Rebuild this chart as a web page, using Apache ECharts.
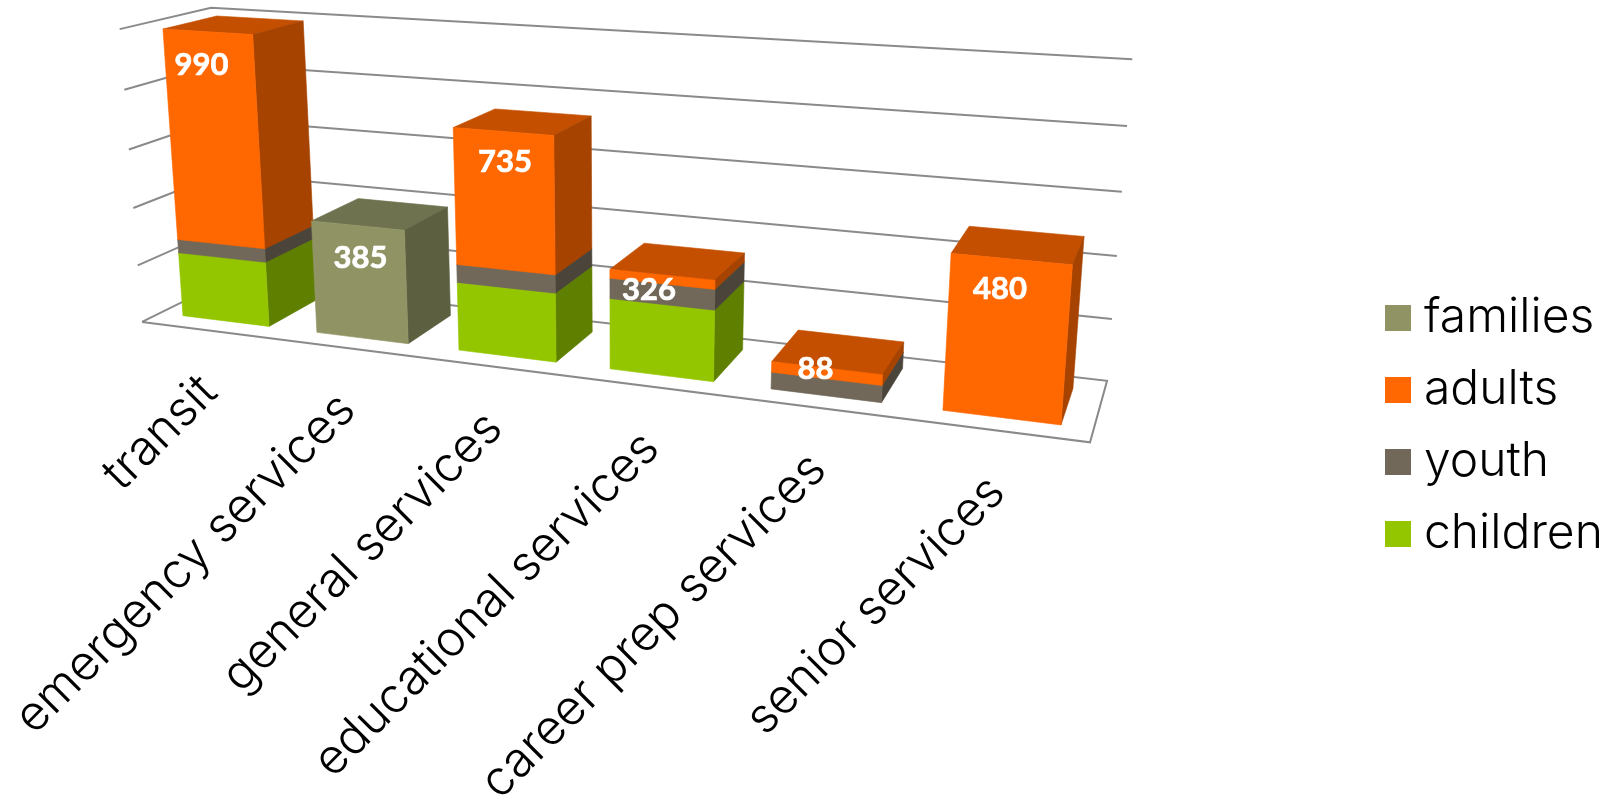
<!DOCTYPE html>
<html><head><meta charset="utf-8">
<style>html,body{margin:0;padding:0;background:#fff}#c{width:1623px;height:802px}</style>
<script src="https://cdn.jsdelivr.net/npm/echarts@6/dist/echarts.min.js"></script>
</head><body><div id="c"></div>
<script>
// ---- data ----
const categories = ['transit','emergency services','general services','educational services','career prep services','senior services'];
const children = [225,0,229,231,0,0];
const youth    = [47,0,60,66,54,0];
const adults   = [718,0,446,29,34,480];
const families = [0,385,0,0,0,0];
const totals   = [990,385,735,326,88,480];
const valueTicks = [0,200,400,600,800,1000];
const legendNames = ['families','adults','youth','children'];

// ---- styling / layout (not data) ----
const FONT = 'Inter';
const PAL = {
  children:{front:'#94C600',top:'#729900',side:'#5F7F00'},
  youth:{front:'#71685A',top:'#574F45',side:'#4A443B'},
  adults:{front:'#FF6700',top:'#C44F00',side:'#A64300'},
  families:{front:'#909465',top:'#6F724E',side:'#5D5F41'}
};
const BAR_FILL = 0.65, Z0 = 0.2, Z1 = 0.8;
const LABEL_NUDGE = [[-6,33],[3,32],[2,31],[-13,15],[-11,1],[-11,30]];
const CAT_LABEL_OFFSET = [1,54];

// camera calibration: plot-box corner (u,v,z) -> picture position
const CAL = [
 [0,0,0,143,322],[1,0,0,1090,442],[1,0,1,1107,381],[0,0,1,227,279],
 [0,1,0,119,29],[0,.8,0,124,90],[0,.6,0,129,149],[0,.4,0,133,208],[0,.2,0,138,266],
 [0,1,1,212,8],[1,1,1,1132,59],[1,.8,1,1127,126],[1,.6,1,1122,192],[1,.4,1,1117,256],[1,.2,1,1112,319]
];
function solveCamera(){
  const n=11, M=Array.from({length:n},()=>new Array(n+1).fill(0));
  const add=(r,b)=>{for(let i=0;i<n;i++){for(let j=0;j<n;j++)M[i][j]+=r[i]*r[j];M[i][n]+=r[i]*b;}};
  CAL.forEach(([x,y,z,sx,sy])=>{
    sx/=1000;sy/=1000;
    add([x,y,z,1,0,0,0,0,-sx*x,-sx*y,-sx*z],sx);
    add([0,0,0,0,x,y,z,1,-sy*x,-sy*y,-sy*z],sy);
  });
  for(let i=0;i<n;i++){
    let p=i;for(let k=i+1;k<n;k++)if(Math.abs(M[k][i])>Math.abs(M[p][i]))p=k;
    [M[i],M[p]]=[M[p],M[i]];
    for(let k=0;k<n;k++){if(k===i)continue;const f=M[k][i]/M[i][i];for(let j=i;j<=n;j++)M[k][j]-=f*M[i][j];}
  }
  return M.map((r,i)=>r[n]/r[i]);
}
const H = solveCamera();
function proj(u,v,z){
  const w=H[8]*u+H[9]*v+H[10]*z+1;
  return [1000*(H[0]*u+H[1]*v+H[2]*z+H[3])/w,1000*(H[4]*u+H[5]*v+H[6]*z+H[7])/w];
}
// grid pixels -> plot-box fractions
function frac(params,p){
  const g=params.coordSys;
  return [(p[0]-g.x)/g.width,(g.y+g.height-p[1])/g.height];
}
function poly(points,fill,z2){
  return {type:'polygon',z2:z2,shape:{points:points},style:{fill:fill,stroke:fill,lineWidth:0.6}};
}
function barSeries(name,values,bases){
  const pal=PAL[name];
  return {
    name:name,type:'custom',coordinateSystem:'cartesian2d',clip:false,z:3,
    itemStyle:{color:pal.front},silent:true,
    encode:{x:0,y:1},
    data:values.map((v,i)=>[i,v,bases[i]]),
    renderItem:function(params,api){
      const i=api.value(0),v=api.value(1),b=api.value(2);
      if(!v)return {type:'group',children:[]};
      const hw=api.size([1,0])[0]*BAR_FILL/2;
      const lo=api.coord([i,b]),hi=api.coord([i,b+v]);
      const [u0,v0]=frac(params,[lo[0]-hw,lo[1]]);
      const [u1,v1]=frac(params,[lo[0]+hw,hi[1]]);
      return {type:'group',children:[
        poly([proj(u0,v1,Z0),proj(u1,v1,Z0),proj(u1,v1,Z1),proj(u0,v1,Z1)],pal.top,1),
        poly([proj(u1,v0,Z0),proj(u1,v0,Z1),proj(u1,v1,Z1),proj(u1,v1,Z0)],pal.side,2),
        poly([proj(u0,v0,Z0),proj(u1,v0,Z0),proj(u1,v1,Z0),proj(u0,v1,Z0)],pal.front,3)
      ]};
    }
  };
}
const stack=[['children',children],['youth',youth],['adults',adults],['families',families]];
const base=categories.map(()=>0);
const bars=stack.map(([n,vals])=>{
  const b=base.slice();vals.forEach((v,i)=>base[i]+=v);
  return barSeries(n,vals,b);
});
const wallLine={stroke:'#8A8A8A',lineWidth:2,fill:'none'};
const walls={
  name:'walls',type:'custom',coordinateSystem:'cartesian2d',clip:false,z:1,silent:true,
  encode:{x:0,y:1},
  data:valueTicks.map(t=>[0,t]),
  renderItem:function(params,api){
    const v=frac(params,api.coord([0,api.value(1)]))[1];
    const pts=[proj(0,v,0),proj(0,v,1),proj(1,v,1)];
    if(v<1e-6){pts.push(proj(1,v,0));pts.push(proj(0,v,0));}
    return {type:'polyline',shape:{points:pts},style:wallLine};
  }
};
const catLabels={
  name:'catLabels',type:'custom',coordinateSystem:'cartesian2d',clip:false,z:2,silent:true,
  encode:{x:0,y:1},
  data:categories.map((c,i)=>[i,0]),
  renderItem:function(params,api){
    const i=api.value(0);
    const [u]=frac(params,api.coord([i,0]));
    const p=proj(u,0,0);
    return {type:'text',x:p[0]+CAT_LABEL_OFFSET[0],y:p[1]+CAT_LABEL_OFFSET[1],rotation:Math.PI/4,
      style:{text:categories[i],fill:'#000',font:'300 48.5px '+FONT,align:'right',verticalAlign:'middle'}};
  }
};
const valueLabels={
  name:'valueLabels',type:'custom',coordinateSystem:'cartesian2d',clip:false,z:5,silent:true,
  encode:{x:0,y:1},
  data:totals.map((t,i)=>[i,t]),
  renderItem:function(params,api){
    const i=api.value(0);
    const [u,v]=frac(params,api.coord([i,api.value(1)]));
    const p=proj(u,v,Z0);
    return {type:'text',x:p[0]+LABEL_NUDGE[i][0],y:p[1]+LABEL_NUDGE[i][1],
      style:{text:String(totals[i]),fill:'#fff',stroke:'#fff',lineWidth:0.7,font:'bold 31px Lato',align:'center',verticalAlign:'middle'}};
  }
};
const chart=echarts.init(document.getElementById('c'),null,{renderer:'canvas'});
chart.setOption({
  animation:false,backgroundColor:'#fff',
  grid:{left:143,top:29,width:947,height:293},
  xAxis:{type:'category',data:categories,show:false},
  yAxis:{type:'value',min:0,max:1000,interval:200,show:false},
  legend:{data:legendNames,orient:'vertical',left:1380,top:289,icon:'rect',itemWidth:26,itemHeight:26,itemGap:24,
    selectedMode:false,textStyle:{fontFamily:FONT,fontWeight:300,fontSize:48,color:'#000',padding:[0,0,0,8]}},
  series:[walls,catLabels].concat(bars,[valueLabels])
});
</script></body></html>
